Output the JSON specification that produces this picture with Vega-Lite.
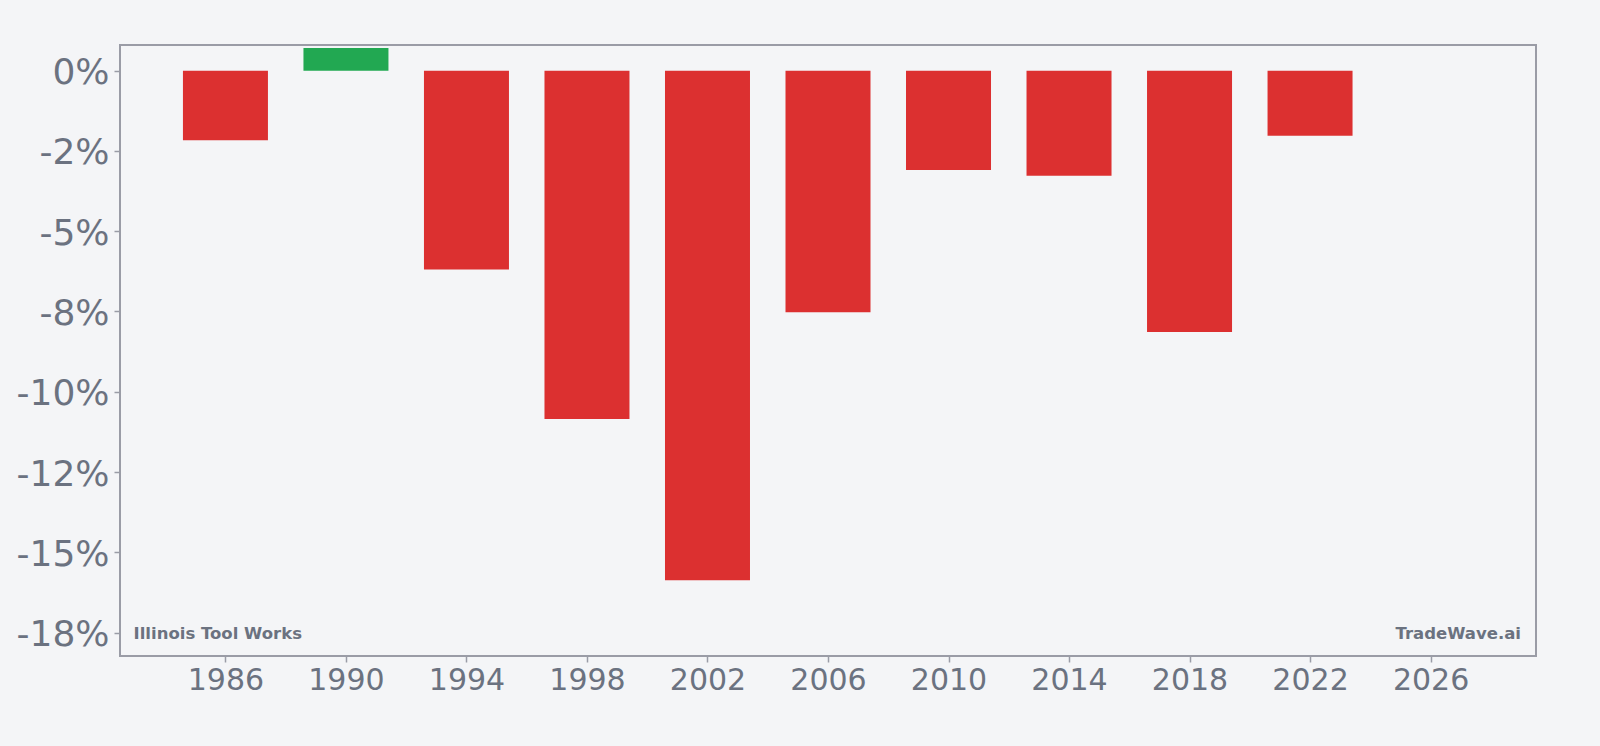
{
  "$schema": "https://vega.github.io/schema/vega-lite/v6.json",
  "width": 1416,
  "height": 611,
  "autosize": {"type": "none"},
  "padding": {"left": 120, "top": 45, "right": 64, "bottom": 90},
  "background": "#f4f5f7",
  "config": {
    "view": {"stroke": "#9a9ca6", "strokeWidth": 2, "fill": "#f4f5f7"},
    "font": "DejaVu Sans"
  },
  "datasets": {
    "returns": [
      {"year": 1986, "value": -2.17},
      {"year": 1990, "value": 0.71},
      {"year": 1994, "value": -6.19},
      {"year": 1998, "value": -10.85},
      {"year": 2002, "value": -15.87},
      {"year": 2006, "value": -7.52},
      {"year": 2010, "value": -3.09},
      {"year": 2014, "value": -3.27},
      {"year": 2018, "value": -8.14},
      {"year": 2022, "value": -2.03}
    ],
    "labels": [
      {"name": "Illinois Tool Works", "side": "left"},
      {"name": "TradeWave.ai", "side": "right"}
    ]
  },
  "layer": [
    {
      "data": {"name": "returns"},
      "mark": {"type": "bar", "size": 85},
      "encoding": {
        "x": {
          "field": "year",
          "type": "quantitative",
          "scale": {"domain": [1982.5, 2029.5], "nice": false, "zero": false, "padding": 0},
          "axis": {
            "values": [1986, 1990, 1994, 1998, 2002, 2006, 2010, 2014, 2018, 2022, 2026],
            "format": "d",
            "title": null,
            "grid": false,
            "domain": false,
            "tickColor": "#9a9ca6",
            "tickSize": 6,
            "tickWidth": 1.5,
            "labelFontSize": 30,
            "labelColor": "#6b7280",
            "labelPadding": 3,
            "labelFont": "DejaVu Sans"
          }
        },
        "y": {
          "field": "value",
          "type": "quantitative",
          "scale": {"domain": [-18.23, 0.8], "nice": false, "zero": false, "padding": 0},
          "axis": {
            "values": [0, -2.5, -5, -7.5, -10, -12.5, -15, -17.5],
            "labelExpr": "datum.value == 0 ? '0%' : datum.value == -2.5 ? '-2%' : datum.value == -5 ? '-5%' : datum.value == -7.5 ? '-8%' : datum.value == -10 ? '-10%' : datum.value == -12.5 ? '-12%' : datum.value == -15 ? '-15%' : '-18%'",
            "title": null,
            "grid": false,
            "domain": false,
            "tickColor": "#9a9ca6",
            "tickSize": 6,
            "tickWidth": 1.5,
            "labelFontSize": 36,
            "labelColor": "#6b7280",
            "labelPadding": 5,
            "labelOffset": 2,
            "labelFont": "DejaVu Sans"
          }
        },
        "color": {
          "condition": {"test": "datum.value >= 0", "value": "#22a852"},
          "value": "#dc3030"
        }
      }
    },
    {
      "mark": {"type": "rule", "color": "#9a9ca6", "strokeWidth": 2},
      "encoding": {"y": {"datum": 0, "type": "quantitative"}}
    },
    {
      "data": {"name": "labels"},
      "transform": [{"filter": "datum.side == 'left'"}],
      "mark": {"type": "text", "align": "left", "baseline": "middle", "fontSize": 16.5, "fontWeight": "bold", "color": "#6b7280", "font": "DejaVu Sans"},
      "encoding": {
        "x": {"datum": 1982.95, "type": "quantitative"},
        "y": {"datum": -17.55, "type": "quantitative"},
        "text": {"field": "name"}
      }
    },
    {
      "data": {"name": "labels"},
      "transform": [{"filter": "datum.side == 'right'"}],
      "mark": {"type": "text", "align": "right", "baseline": "middle", "fontSize": 16.5, "fontWeight": "bold", "color": "#6b7280", "font": "DejaVu Sans"},
      "encoding": {
        "x": {"datum": 2029.0, "type": "quantitative"},
        "y": {"datum": -17.55, "type": "quantitative"},
        "text": {"field": "name"}
      }
    }
  ]
}
